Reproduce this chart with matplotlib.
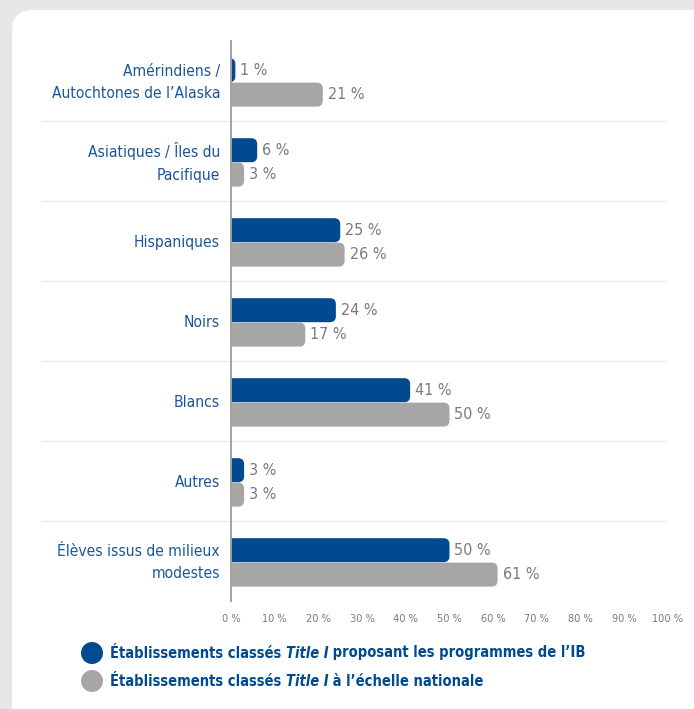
import matplotlib
matplotlib.use("Agg")
import matplotlib.pyplot as plt
from matplotlib.patches import FancyBboxPatch, Rectangle, Ellipse

categories = ["Amérindiens /\nAutochtones de l\u2019Alaska", "Asiatiques / Îles du\nPacifique",
              "Hispaniques", "Noirs", "Blancs", "Autres",
              "Élèves issus de milieux\nmodestes"]
ib_values = [1, 6, 25, 24, 41, 3, 50]
nat_values = [21, 3, 26, 17, 50, 3, 61]
xticks = [0, 10, 20, 30, 40, 50, 60, 70, 80, 90, 100]
xtick_labels = [f"{t} %" for t in xticks]
legend_labels = [("Établissements classés ", "Title I", " proposant les programmes de l\u2019IB"),
                 ("Établissements classés ", "Title I", " à l\u2019échelle nationale")]

plt.rcParams["font.family"] = ["DejaVu Sans"]
plt.rcParams["font.stretch"] = "condensed"

BLUE = "#004a8f"
GRAY = "#a6a6a6"
LBL = "#7a7a7a"
CATC = "#1b5699"
BG = "#e6e7e7"

W, H = 694, 709
fig = plt.figure(figsize=(W / 100, H / 100), dpi=100)
fig.patch.set_facecolor(BG)

panel = FancyBboxPatch((12 / W, 1 - 1000 / H), 1000 / W, (1000 - 10) / H,
                       boxstyle="round,pad=0,rounding_size=0.03",
                       mutation_aspect=W / H,
                       transform=fig.transFigure, facecolor="white", edgecolor="none", zorder=-5)
fig.patches.append(panel)

x0, x100 = 231, 668
ytop, ybot = 41, 601
ax = fig.add_axes([x0 / W, 1 - ybot / H, (x100 - x0) / W, (ybot - ytop) / H])
ax.set_facecolor("none")
ax.set_xlim(0, 100)
ax.set_ylim(len(categories) - 0.5, -0.5)
for s in ax.spines.values():
    s.set_visible(False)

pxx = (x100 - x0) / 100.0
pxy = (ybot - ytop) / len(categories)
r_px = 6
rx = r_px / pxx
ry = r_px / pxy
bh = 0.30

clip = Rectangle((0, -10), 200, 100, transform=ax.transData)

def rbar(y, v, color):
    p = FancyBboxPatch((-3 * rx, y - bh / 2), v + 3 * rx, bh,
                       boxstyle=f"round,pad=0,rounding_size={rx}",
                       mutation_aspect=ry / rx,
                       facecolor=color, edgecolor="none", zorder=2)
    ax.add_patch(p)
    p.set_clip_path(clip)

for i, (a, b) in enumerate(zip(ib_values, nat_values)):
    ya = i - 0.135
    yb = i + 0.17
    rbar(ya, a, BLUE)
    rbar(yb, b, GRAY)
    ax.text(a + 5 / pxx, ya, f"{a} %", va="center", ha="left", fontsize=11.5, color=LBL)
    ax.text(b + 5 / pxx, yb, f"{b} %", va="center", ha="left", fontsize=11.5, color=LBL)
    ax.text(-11 / pxx, i + 0.02, categories[i], va="center", ha="right", fontsize=11.2,
            color=CATC, linespacing=1.6)

for i in range(len(categories) - 1):
    ax.plot([(42 - x0) / pxx, (665 - x0) / pxx], [i + 0.5, i + 0.5], color="#ececec",
            lw=1, clip_on=False, zorder=1)
ax.plot([0, 0], [-0.5, len(categories) - 0.5], color="#a0a0a0", lw=1.4, clip_on=False, zorder=3)

ax.set_yticks([])
ax.set_xticks(xticks)
ax.set_xticklabels(xtick_labels, fontsize=7.8, color=LBL)
ax.tick_params(axis="x", length=0, pad=9)

cols = [BLUE, GRAY]
ys = [653, 681]
fig.canvas.draw()
renderer = fig.canvas.get_renderer()
for (parts, c, yp) in zip(legend_labels, cols, ys):
    circ = Ellipse((92 / W, 1 - yp / H), 22 / W, 22 / H,
                   transform=fig.transFigure, facecolor=c, edgecolor="none")
    fig.patches.append(circ)
    xp = 110
    for j, part in enumerate(parts):
        t = fig.text(xp / W, 1 - yp / H, part, fontsize=10.5, fontweight="bold",
                     fontstyle="italic" if j == 1 else "normal", color=BLUE,
                     va="center", ha="left")
        bb = t.get_window_extent(renderer)
        xp += bb.width

fig.savefig("out.png", dpi=100, facecolor=fig.get_facecolor())
